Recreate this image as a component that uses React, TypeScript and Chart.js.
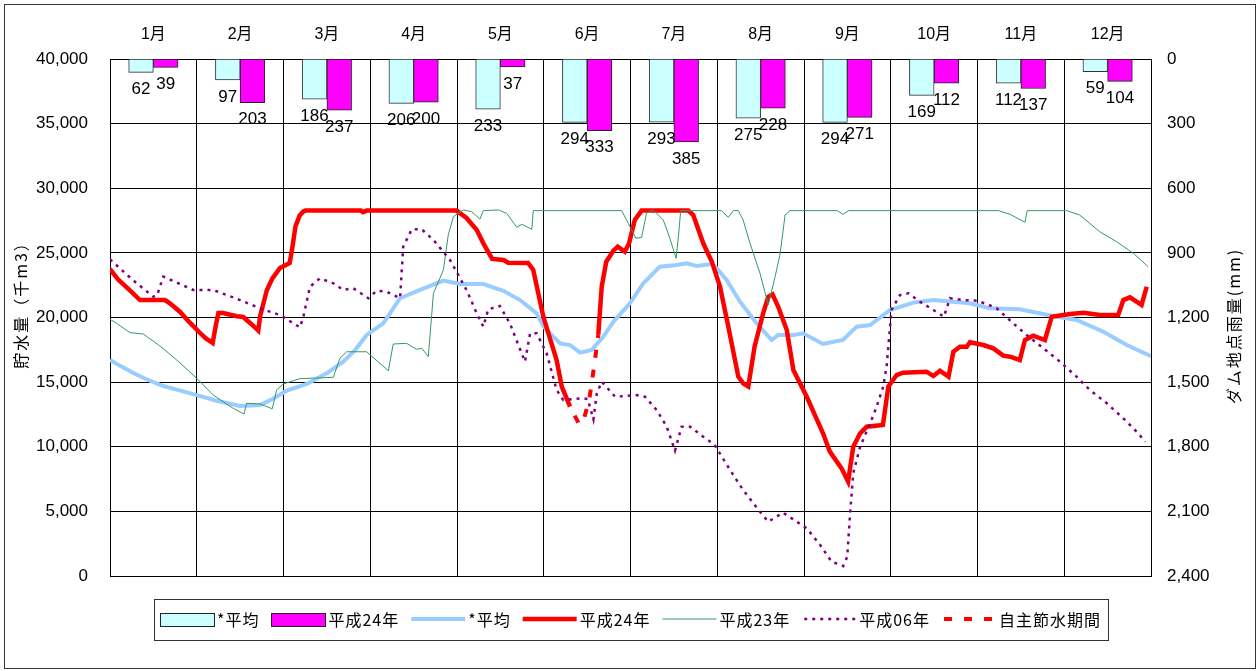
import { useEffect, useRef } from 'react';
import { Chart, registerables } from 'chart.js';

Chart.register(...registerables);

// Month categories (top axis) and monthly rainfall at the dam (mm)
const months = ['1月', '2月', '3月', '4月', '5月', '6月', '7月', '8月', '9月', '10月', '11月', '12月'];
const rainAverage = [62, 97, 186, 206, 233, 294, 293, 275, 294, 169, 112, 59];
const rain2012 = [39, 203, 237, 200, 37, 333, 385, 228, 271, 112, 137, 104];

// Storage volume (thousand m3) by day of year: [day, volume]
const storageAverage: [number, number][] = [
  [0, 16710], [4, 16200], [8, 15730], [13, 15200], [18.7, 14700], [27, 14210], [32, 13900],
  [37.4, 13560], [45.6, 13150], [52.6, 13230], [57, 13700], [62, 14340], [69, 14860],
  [76, 15680], [81.8, 16580], [86, 17500], [90, 18650], [95.8, 19550], [101.7, 21490],
  [108.7, 22130], [116.9, 22850], [122.7, 22590], [130.9, 22590], [137.9, 22070],
  [143.8, 21350], [149.6, 20320], [152, 19290], [157.8, 18000], [161.3, 17870],
  [164.8, 17280], [168.9, 17490], [173, 18520], [176.5, 19680], [182.3, 21100],
  [187, 22650], [192.8, 23930], [198.7, 24060], [202.2, 24190], [205.7, 23980],
  [211, 24140], [212.7, 23810], [216.2, 22900], [220.9, 21220], [226.7, 19550],
  [232, 18260], [234.3, 18650], [239.6, 18650], [243, 18780], [250, 17950], [257, 18260],
  [261.8, 19290], [266.5, 19420], [273.5, 20580], [281.7, 21150], [288.7, 21350],
  [301.5, 21100], [308.5, 20710], [319, 20630], [330.7, 20120], [338.9, 19810],
  [348.3, 18900], [356.5, 17870], [365, 17000],
];

const storage2012: [number, number | null][] = [
  [0, 23750], [3, 22900], [7, 22100], [10.5, 21350], [19.3, 21350], [21, 21100],
  [24.5, 20450], [28, 19600], [31.6, 18800], [33.5, 18400], [36, 18030], [37.2, 19500],
  [38, 20350], [39.6, 20350], [44.5, 20100], [46.7, 20040], [49.5, 19500], [52, 18980],
  [52.6, 20060], [55, 22130], [57, 23050], [59.6, 23830], [63, 24220], [64, 25500],
  [65, 27030], [66.5, 27900], [67.7, 28190], [68.5, 28270], [88, 28270], [88.7, 28150],
  [90, 28270], [121.5, 28270], [125, 27700], [128.6, 26770], [131, 25700], [134, 24530],
  [138, 24450], [139.6, 24240], [146.6, 24220], [148.4, 23680], [152, 20000],
  [156.6, 16710], [158.4, 14650], [161.3, 13100], [165, null], [171.2, 18650],
  [172.4, 22380], [174, 24320], [176.5, 25170], [178, 25480], [180.5, 25090],
  [182, 25740], [184, 27540], [186.4, 28270], [202.8, 28270], [204.5, 27930],
  [208, 25740], [211, 24320], [213.9, 22380], [216.8, 19290], [220.3, 15420],
  [222, 14900], [223.8, 14650], [226, 17740], [229, 20320], [230.8, 21610],
  [232.3, 21790], [234.3, 20830], [237.3, 19030], [239.6, 15940], [244.3, 13870],
  [250, 11040], [252.4, 9620], [256.5, 8330], [258.8, 7300], [260.6, 10000],
  [263, 11040], [265.3, 11550], [271, 11680], [272.9, 14650], [275.8, 15550],
  [278, 15730], [286.3, 15810], [288.7, 15470], [291, 15880], [294, 15420],
  [295.7, 17350], [298, 17740], [300.4, 17740], [301.5, 18080], [306.2, 17870],
  [309.7, 17610], [313.2, 17050], [315.6, 16970], [319, 16710], [320.8, 18260],
  [323.7, 18590], [327.8, 18260], [330.2, 20060], [336.6, 20270], [341.3, 20370],
  [347.1, 20190], [353.5, 20190], [355.3, 21350], [357.6, 21560], [361.7, 20970],
  [363.5, 22380],
];

// Voluntary water-saving period in 2012
const storage2012Saving: [number, number][] = [
  [161.3, 13100], [164.6, 11700], [166.2, 12200], [168, 13600], [169.8, 16300], [171.2, 18650],
];

const storage2011: [number, number][] = [
  [0, 19860], [2.3, 19550], [7, 18830], [11.7, 18720], [17.5, 17800], [23.4, 16710],
  [30.4, 15300], [36.2, 14000], [43.2, 12970], [47, 12530], [47.9, 13360], [52.6, 13310],
  [56.9, 12940], [58.4, 14390], [60.8, 14860], [66.6, 15270], [78.3, 15370], [80.6, 16840],
  [83, 17350], [90, 17350], [97.6, 15880], [99.3, 17950], [104, 18000], [107.5, 17540],
  [109.3, 17620], [111.6, 16970], [113.4, 21870], [116.9, 23680], [118.6, 26380],
  [120.4, 27800], [123.9, 28320], [126.8, 28190], [129.7, 27620], [130.9, 28270],
  [136.2, 28320], [139.1, 28060], [142.6, 26980], [144.4, 27210], [147.9, 26820],
  [148.4, 28270], [179.4, 28270], [181.7, 27290], [184.4, 26130], [186.4, 26200],
  [188.1, 28060], [190.5, 28320], [194, 27540], [196.3, 26130], [198.5, 24580],
  [199.3, 26250], [200.1, 28270], [214.4, 28270], [216.8, 27750], [218.5, 28270],
  [220.3, 28270], [222, 27540], [224.4, 25740], [227.9, 23420], [230.8, 20970],
  [233.2, 23160], [234.9, 24840], [236.7, 27930], [238.4, 28270], [255, 28270],
  [257, 27980], [259, 28270], [311.5, 28270], [315.6, 27980], [320.8, 27370],
  [321.6, 28270], [335.4, 28270], [340, 27930], [347, 26640], [352.9, 25870],
  [358.8, 24970], [364, 23930],
];

const storage1994: [number, number][] = [
  [0, 24500], [8, 22900], [15.2, 21610], [16.5, 21700], [18.7, 23160], [29.2, 22130],
  [36.2, 22130], [45.6, 21350], [52.6, 20710], [59.6, 20190], [66.6, 19240], [67.8, 20060],
  [70.1, 22380], [73.6, 23030], [78.3, 22650], [81.8, 22130], [85.3, 22260], [90.6, 21490],
  [93.5, 22070], [97, 22000], [101.7, 21490], [102.8, 25480], [105.8, 26820], [109.3, 26820],
  [113.4, 26000], [119.2, 24450], [121.5, 23540], [125, 22130], [128.6, 20320], [130.9, 19290],
  [132.6, 20630], [136.7, 20890], [140.2, 19550], [143.2, 17870], [145.5, 16580],
  [147.3, 18780], [149.6, 18780], [153.1, 17230], [156.6, 14390], [158.9, 13620],
  [165.4, 13750], [167.5, 13700], [169.5, 12120], [170.7, 14140], [172.4, 15030],
  [177.1, 13870], [184.7, 14000], [187.6, 13870], [191.7, 12840], [195.2, 11550],
  [198.1, 9700], [200.4, 11550], [203.4, 11550], [208, 10780], [212, 10140], [217.4, 8200],
  [222, 6650], [227.9, 4970], [230.8, 4200], [236, 4900], [240.8, 4200], [244.3, 3690],
  [249, 2400], [253, 1110], [257.1, 770], [258.5, 1490], [259.5, 4850], [260.6, 7950],
  [263, 10000], [267, 12070], [268.8, 13100], [271.1, 14650], [272.3, 16190],
  [273.5, 19290], [274, 20580], [277, 21740], [280, 21870], [284, 21220], [288.7, 20580],
  [292.4, 20060], [294.5, 21490], [299.2, 21350], [303.9, 21300], [307.4, 21040],
  [310.9, 20710], [316.7, 19550], [321.4, 18650], [327.3, 17610], [333.1, 16580],
  [338.9, 15420], [343.6, 14390], [349.5, 13360], [355.3, 12200], [360, 11160],
  [363, 10390],
];

const DAYS_IN_YEAR = 365;
const NUM_FONT = "'Liberation Sans', 'Noto Sans CJK JP', sans-serif";
const CJK_FONT = "'Noto Sans CJK JP', sans-serif";

const toPoints = (rows: [number, number | null][]) => rows.map(([x, y]) => ({ x, y }));
// Monthly bars sit at the middle of each month on the day axis
const toMonthPoints = (values: number[]) =>
  values.map((y, i) => ({ x: ((i + 0.5) * DAYS_IN_YEAR) / months.length, y }));
const withComma = (v: number | string) => Number(v).toLocaleString('en-US');

// Value labels just below the hanging rainfall bars
const barLabelPlugin = {
  id: 'barLabels',
  afterDatasetsDraw(chart: any) {
    const ctx = chart.ctx;
    ctx.save();
    ctx.font = `17px ${NUM_FONT}`;
    ctx.fillStyle = '#000';
    ctx.textAlign = 'center';
    ctx.textBaseline = 'middle';
    chart.data.datasets.forEach((ds: any, i: number) => {
      if (ds.type !== 'bar') return;
      const meta = chart.getDatasetMeta(i);
      meta.data.forEach((el: any, j: number) => {
        ctx.fillText(String(ds.data[j].y), el.x, el.y + 17);
      });
    });
    ctx.restore();
  },
};

// Rotated axis titles and the outer frame
const framePlugin = {
  id: 'frame',
  afterDraw(chart: any) {
    const ctx = chart.ctx;
    ctx.save();
    ctx.strokeStyle = '#333';
    ctx.lineWidth = 1;
    ctx.strokeRect(4.5, 4.5, 1251, 664);

    ctx.fillStyle = '#000';
    ctx.textAlign = 'center';
    ctx.textBaseline = 'middle';
    ctx.font = `16px ${CJK_FONT}`;
    (ctx as any).letterSpacing = '2px';
    ctx.save();
    ctx.translate(21, 301);
    ctx.rotate(-Math.PI / 2);
    ctx.fillText('貯水量（千m3）', 0, 0);
    ctx.restore();
    ctx.save();
    ctx.translate(1234, 326);
    ctx.rotate(-Math.PI / 2);
    ctx.fillText('ダム地点雨量(mm)', 0, 0);
    ctx.restore();
    ctx.restore();
  },
};

// Boxed legend under the plot
const legendPlugin = {
  id: 'boxLegend',
  afterDraw(chart: any) {
    const ctx = chart.ctx;
    const area = chart.chartArea;
    const symW = 54;
    const symGap = 3;
    const itemGap = 12;
    ctx.save();
    ctx.font = `16px ${CJK_FONT}`;
    (ctx as any).letterSpacing = '1px';
    const items = chart.data.datasets.map((ds: any) => ({
      ds,
      w: ctx.measureText(ds.label).width,
    }));
    const total = items.reduce((s: number, it: any) => s + symW + symGap + it.w, 0) + itemGap * (items.length - 1);
    const cx = (area.left + area.right) / 2;
    let x = cx - total / 2;
    const cy = area.bottom + 43;
    ctx.strokeStyle = '#333';
    ctx.lineWidth = 1;
    ctx.strokeRect(Math.round(x - 6) + 0.5, Math.round(cy - 20) + 0.5, Math.round(total + 13), 41);
    items.forEach((it: any) => {
      const ds = it.ds;
      if (ds.type === 'bar') {
        ctx.fillStyle = ds.backgroundColor;
        ctx.fillRect(x, cy - 6, symW, 13);
        ctx.strokeStyle = '#222';
        ctx.lineWidth = 1;
        ctx.strokeRect(Math.round(x) + 0.5, Math.round(cy - 6) + 0.5, symW, 13);
      } else {
        ctx.strokeStyle = ds.borderColor;
        ctx.lineWidth = ds.borderWidth;
        ctx.setLineDash(ds.borderDash || []);
        ctx.lineDashOffset = ds.borderDash ? -2 : 0;
        ctx.beginPath();
        ctx.moveTo(x, cy);
        ctx.lineTo(x + symW, cy);
        ctx.stroke();
        ctx.setLineDash([]);
      }
      ctx.fillStyle = '#000';
      ctx.textAlign = 'left';
      ctx.textBaseline = 'middle';
      ctx.fillText(ds.label, x + symW + symGap, cy + 1);
      x += symW + symGap + it.w + itemGap;
    });
    ctx.restore();
  },
};

export default function App() {
  const canvasRef = useRef<HTMLCanvasElement>(null);

  useEffect(() => {
    document.body.style.margin = '0';
    const canvas = canvasRef.current;
    if (!canvas) return;

    const lineBase = { type: 'line' as const, xAxisID: 'xd', yAxisID: 'y', pointRadius: 0, tension: 0, fill: false, spanGaps: false };
    const barBase = { type: 'bar' as const, xAxisID: 'xd', yAxisID: 'y2', borderWidth: 1, barThickness: 24.7 };

    const chart = new Chart(canvas, {
      type: 'bar',
      data: {
        labels: months,
        datasets: [
          { ...barBase, label: '*平均', data: toMonthPoints(rainAverage), backgroundColor: '#CCFFFF', borderColor: '#333' },
          { ...barBase, label: '平成24年', data: toMonthPoints(rain2012), backgroundColor: '#FF00FF', borderColor: '#222' },
          { ...lineBase, label: '*平均', data: toPoints(storageAverage), borderColor: '#99CCFF', borderWidth: 4, order: -1 },
          { ...lineBase, label: '平成24年', data: toPoints(storage2012), borderColor: '#FF0000', borderWidth: 4.5, order: -2 },
          { ...lineBase, label: '平成23年', data: toPoints(storage2011), borderColor: '#339966', borderWidth: 1, order: -3 },
          { ...lineBase, label: '平成06年', data: toPoints(storage1994), borderColor: '#800080', borderWidth: 2.5, borderDash: [3, 5], order: -4 },
          { ...lineBase, label: '自主節水期間', data: toPoints(storage2012Saving), borderColor: '#FF0000', borderWidth: 4, borderDash: [8, 12], borderDashOffset: 10, order: -5 },
        ] as any,
      },
      options: {
        responsive: false,
        devicePixelRatio: 1,
        animation: false,
        layout: { padding: { left: 0, right: 0, top: 0, bottom: 95 } },
        plugins: { legend: { display: false }, tooltip: { enabled: false } },
        scales: {
          x: {
            type: 'category',
            position: 'top',
            offset: true,
            grid: { offset: true, color: '#000', lineWidth: 1, drawTicks: false },
            border: { color: '#000' },
            ticks: { padding: 15, color: '#000', font: { family: NUM_FONT, size: 16 } },
            afterFit: (s: any) => { s.height = 59; },
          },
          xd: {
            type: 'linear',
            position: 'bottom',
            display: false,
            offset: false,
            min: 0,
            max: DAYS_IN_YEAR,
            ticks: { stepSize: DAYS_IN_YEAR },
          },
          y: {
            position: 'left',
            min: 0,
            max: 40000,
            grid: { color: '#000', lineWidth: 1, drawTicks: false },
            border: { color: '#000' },
            ticks: { stepSize: 5000, padding: 22, color: '#000', font: { family: NUM_FONT, size: 17 }, callback: (v: any) => withComma(v) },
            afterFit: (s: any) => { s.width = 110; },
          },
          y2: {
            position: 'right',
            reverse: true,
            min: 0,
            max: 2400,
            grid: { drawOnChartArea: false, drawTicks: false },
            border: { color: '#000' },
            ticks: { stepSize: 300, padding: 16, color: '#000', font: { family: NUM_FONT, size: 17 }, callback: (v: any) => withComma(v) },
            afterFit: (s: any) => { s.width = 106; },
          },
        },
      } as any,
      plugins: [barLabelPlugin, framePlugin, legendPlugin],
    });

    return () => chart.destroy();
  }, []);

  return <canvas ref={canvasRef} width={1257} height={671} style={{ display: 'block' }} />;
}
